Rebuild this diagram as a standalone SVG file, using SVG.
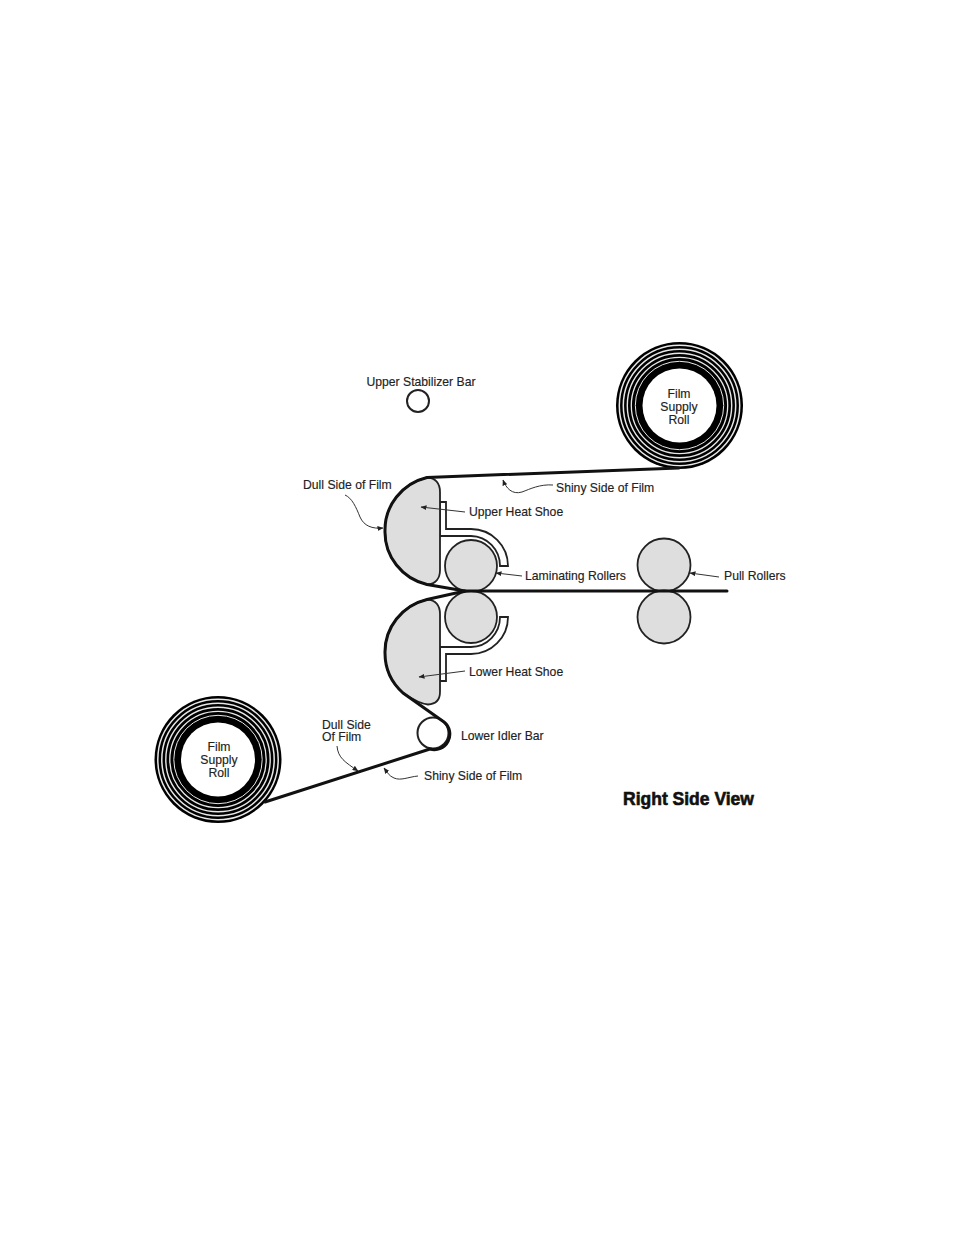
<svg xmlns="http://www.w3.org/2000/svg" width="954" height="1235" viewBox="0 0 954 1235">
<defs>
<style>
text{font-family:"Liberation Sans",Arial,sans-serif;font-size:12.2px;fill:#222;stroke:#222;stroke-width:.15}
.c{text-anchor:middle}
.film{fill:none;stroke:#111;stroke-width:3;stroke-linejoin:round;stroke-linecap:round}
.thin{fill:none;stroke:#333;stroke-width:1}
.part{fill:#fff;stroke:#222;stroke-width:2}
.grey{fill:#dedede;stroke:#222;stroke-width:1.8}
.sh{fill:#fff;stroke:#222;stroke-width:1.8}
.wr{fill:none;stroke:#e8e8e8}
</style>
<marker id="a" markerWidth="6" markerHeight="5" refX="5.500" refY="2.500" orient="auto" markerUnits="userSpaceOnUse"><path d="M0 0L6 2.500L0 5Z" fill="#222"/></marker>
<g id="rings">
<circle r="63.5" fill="#000"/>
<circle class="wr" r="60.2" stroke-width="1.5"/>
<circle class="wr" r="56.2" stroke-width="1.5"/>
<circle class="wr" r="52.2" stroke-width="1.4"/>
<circle class="wr" r="48.2" stroke-width="1.3"/>
<circle class="wr" r="44.2" stroke-width="1"/>
<circle r="37" fill="#fff"/>
</g>
</defs>
<rect width="954" height="1235" fill="#fff"/>

<g id="upper-stabilizer-bar"><circle class="part" cx="418" cy="401" r="11"/><text class="c" x="421" y="386">Upper Stabilizer Bar</text></g>

<g id="upper-roll"><use href="#rings" x="679.500" y="405.500"/>
<text class="c" x="679" y="398">Film</text><text class="c" x="679" y="411">Supply</text><text class="c" x="679" y="424">Roll</text></g>

<g id="lower-roll"><use href="#rings" x="218" y="759.500"/>
<text class="c" x="219" y="751">Film</text><text class="c" x="219" y="764">Supply</text><text class="c" x="219" y="777">Roll</text></g>

<g id="upper-heat-shoe">
<path class="sh" d="M440 502H446V529H471A37 37 0 0 1 508 566H500A29.500 30 0 0 0 471 536H440Z"/>
<path class="grey" d="M427 477.500C436 478 440 484 440 492V570C440 578 436 584 427 584.500A55 54 0 0 1 385 531A55 54 0 0 1 427 477.500Z"/>
<text x="469" y="516">Upper Heat Shoe</text></g>

<g id="lower-heat-shoe">
<path class="sh" d="M440 681H446V654H471A37 37 0 0 0 508 617H500A29.500 30 0 0 1 471 647H440Z"/>
<path class="grey" d="M427 599.500C436 600 440 606 440 614V692C440 700 436 704 428 704.500C420 704 412 699 403 693A55 54 0 0 1 385 653A55 54 0 0 1 427 599.500Z"/>
<text x="469" y="676">Lower Heat Shoe</text></g>

<g id="laminating-rollers"><circle class="grey" cx="471" cy="566" r="26"/><circle class="grey" cx="471" cy="617" r="26"/><text x="525" y="580">Laminating Rollers</text></g>

<g id="pull-rollers"><circle class="grey" cx="664" cy="565" r="26.500"/><circle class="grey" cx="664" cy="617" r="26.500"/><text x="724" y="580">Pull Rollers</text></g>

<g id="lower-idler-bar"><circle class="part" cx="433" cy="733" r="15.500"/><text x="461" y="740">Lower Idler Bar</text></g>

<g id="labels">
<text x="303" y="489">Dull Side of Film</text>
<text x="556" y="492">Shiny Side of Film</text>
<text x="322" y="729">Dull Side</text><text x="322" y="741">Of Film</text>
<text x="424" y="780">Shiny Side of Film</text>
<text x="623" y="805" style="font-size:17.500px;font-weight:700;fill:#111;stroke:#111;stroke-width:.6">Right Side View</text>
</g>

<g id="connectors">
<path class="film" d="M679 468L427 477.500A55 54 0 0 0 385 531A55 54 0 0 0 427 584.500L465 591H727"/>
<path class="film" d="M465 591L427 599.500A55 54 0 0 0 385 653A55 54 0 0 0 403 693L444 722A15.500 15.500 0 0 1 430 749L265 802"/>
<path class="thin" marker-end="url(#a)" d="M345 495C352 498 356 507 360 517C364 526 372 529 383 528"/>
<path class="thin" marker-end="url(#a)" d="M553 485C540 484 530 489 522 492C512 495 506 488 503 480"/>
<path class="thin" marker-end="url(#a)" d="M465 512L421 507"/>
<path class="thin" marker-end="url(#a)" d="M522 576L496 573"/>
<path class="thin" marker-end="url(#a)" d="M719 577L690 573"/>
<path class="thin" marker-end="url(#a)" d="M465 671L419 677"/>
<path class="thin" marker-end="url(#a)" d="M337 746C338 758 345 762 358 771"/>
<path class="thin" marker-end="url(#a)" d="M418 776C408 777 401 781 394 778C389 776 387 772 384 768"/>
</g>
</svg>
